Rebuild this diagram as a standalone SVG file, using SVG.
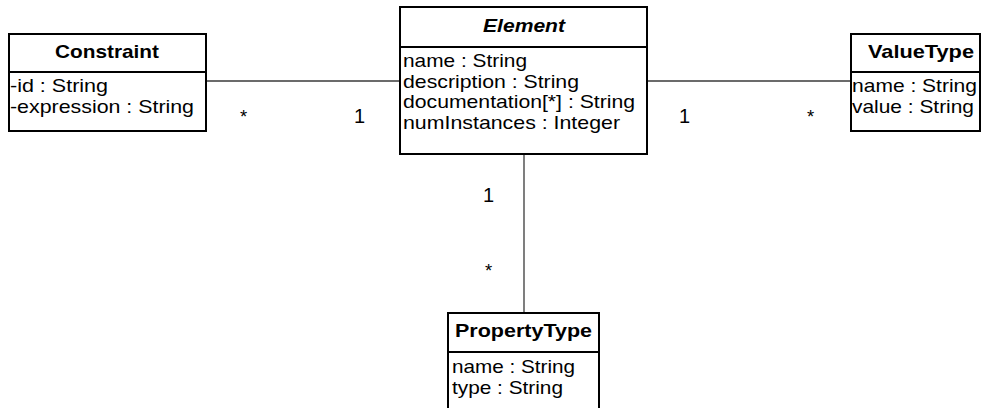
<svg xmlns="http://www.w3.org/2000/svg" width="983" height="408" viewBox="0 0 983 408">
<style>
.box{fill:#fff;stroke:#000;stroke-width:2}
.div{stroke:#000;stroke-width:2}
.conn{stroke:#3a3a3a;stroke-width:1.3;fill:none}
text{font-family:"Liberation Sans",Arial,sans-serif;font-size:18.5px;fill:#000}
.t{font-weight:bold}
.i{font-style:italic}
.m{font-size:20px}
</style>
<rect width="983" height="408" fill="#fff"/>
<g id="connectors">
<line class="conn" x1="206" y1="81" x2="400" y2="81"/>
<line class="conn" x1="647" y1="81" x2="851" y2="81"/>
<line class="conn" x1="524" y1="154" x2="524" y2="313"/>
<text x="240" y="123">*</text>
<text class="m" x="354" y="123">1</text>
<text class="m" x="679" y="123">1</text>
<text x="807" y="123">*</text>
<text class="m" x="483" y="202">1</text>
<text x="485" y="277">*</text>
</g>
<g id="Constraint">
<rect class="box" x="9" y="34" width="197" height="97"/>
<line class="div" x1="9" y1="72" x2="206" y2="72"/>
<text class="t" x="55" y="58" textLength="104" lengthAdjust="spacingAndGlyphs">Constraint</text>
<text x="10" y="92" textLength="98" lengthAdjust="spacingAndGlyphs">-id : String</text>
<text x="10" y="113" textLength="184" lengthAdjust="spacingAndGlyphs">-expression : String</text>
</g>
<g id="Element">
<rect class="box" x="400" y="7" width="247" height="147"/>
<line class="div" x1="400" y1="47" x2="647" y2="47"/>
<text class="t i" x="483" y="32" textLength="82" lengthAdjust="spacingAndGlyphs">Element</text>
<text x="403" y="67" textLength="124" lengthAdjust="spacingAndGlyphs">name : String</text>
<text x="403" y="88" textLength="176" lengthAdjust="spacingAndGlyphs">description : String</text>
<text x="403" y="108" textLength="232" lengthAdjust="spacingAndGlyphs">documentation[*] : String</text>
<text x="403" y="129" textLength="217" lengthAdjust="spacingAndGlyphs">numInstances : Integer</text>
</g>
<g id="ValueType">
<rect class="box" x="851" y="34" width="129" height="97"/>
<line class="div" x1="851" y1="72" x2="980" y2="72"/>
<text class="t" x="868" y="58" textLength="106" lengthAdjust="spacingAndGlyphs">ValueType</text>
<text x="852" y="92" textLength="125" lengthAdjust="spacingAndGlyphs">name : String</text>
<text x="852" y="113" textLength="122" lengthAdjust="spacingAndGlyphs">value : String</text>
</g>
<g id="PropertyType">
<rect class="box" x="448" y="313" width="151" height="100"/>
<line class="div" x1="448" y1="352" x2="599" y2="352"/>
<text class="t" x="455" y="337" textLength="137" lengthAdjust="spacingAndGlyphs">PropertyType</text>
<text x="452" y="373" textLength="123" lengthAdjust="spacingAndGlyphs">name : String</text>
<text x="452" y="394" textLength="111" lengthAdjust="spacingAndGlyphs">type : String</text>
</g>
</svg>
